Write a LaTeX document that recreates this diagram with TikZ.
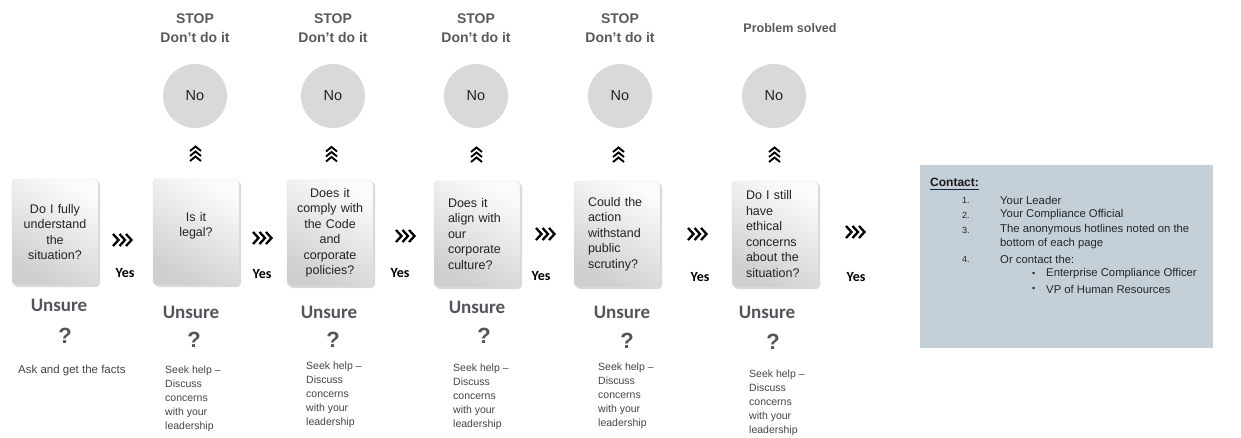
\documentclass[tikz,border=0pt]{standalone}
\usepackage{fontspec}
\setmainfont{Liberation Sans}
\newfontfamily\calibri{Carlito}
\usetikzlibrary{shadows}
\usetikzlibrary{calc}

\definecolor{inkgray}{RGB}{35,35,35}
\definecolor{stopgray}{RGB}{89,89,89}
\definecolor{unsuregray}{RGB}{82,86,92}
\definecolor{notegray}{RGB}{68,68,68}
\definecolor{nofill}{RGB}{216,217,217}
\definecolor{contactfill}{RGB}{197,207,216}
\definecolor{navy}{RGB}{16,37,63}

\begin{document}
\begin{tikzpicture}
[x=1pt,y=-1pt,
question/.style={rounded corners=4pt,draw=gray!25,top color=gray!3,bottom color=gray!38,shading angle=-30,
  drop shadow={opacity=0.3,shadow xshift=2pt,shadow yshift=-2pt},minimum width=86pt,minimum height=106pt,
  inner sep=0pt,text width=74pt,align=center,text=inkgray,font=\fontsize{12.5}{15.5}\selectfont},
nocircle/.style={circle,fill=nofill,minimum size=64pt,inner sep=0pt,text=inkgray,font=\fontsize{14.5}{16}\selectfont},
stoplabel/.style={align=center,text=stopgray,font=\bfseries\fontsize{14}{19}\selectfont},
yeslabel/.style={text=black,font=\calibri\bfseries\fontsize{14}{16}\selectfont},
unsure/.style={text=unsuregray,font=\calibri\bfseries\fontsize{19}{21}\selectfont},
qmark/.style={text=unsuregray,font=\bfseries\fontsize{22}{24}\selectfont},
note/.style={anchor=north west,align=left,inner sep=0pt,text=notegray,font=\fontsize{10.5}{14}\selectfont},
listitem/.style={anchor=west,inner sep=0pt,text=black!85,font=\fontsize{11.3}{13}\selectfont},
listmark/.style={anchor=west,inner sep=0pt,text=black!85,font=\fontsize{9}{11}\selectfont},
gochev/.pic={\foreach \d in {-6.5,0,6.5} \draw[line width=2.3pt] (\d-3.5,-6) -- (\d+2,0) -- (\d-3.5,6);},
upchev/.pic={\foreach \d in {-7,-2,3} \draw[line width=1.9pt] (-5.5,\d+4.5) -- (0,\d) -- (5.5,\d+4.5);}]
\useasboundingbox (0,0) rectangle (1241,438);

% question boxes
\node[question] (box1) at (55,232) {Do I fully\\understand\\the\\situation?};
\node[question] (box2) at (196,232) {Is it\\legal?\\\mbox{}};
\node[question] (box3) at (330,233) {Does it\\comply with\\the Code\\and\\corporate\\policies?};
\node[question,align=left,text width=58pt] (box4) at (477,234) {Does it\\align with\\our\\corporate\\culture?};
\node[question,align=left,text width=58pt] (box5) at (617,234) {Could the\\action\\withstand\\public\\scrutiny?};
\node[question,align=left,text width=58pt] (box6) at (775,234) {Do I still\\have\\ethical\\concerns\\about the\\situation?};

% no answers
\node[nocircle] (no2) at (195,96) {No};
\node[nocircle] (no3) at (333,96) {No};
\node[nocircle] (no4) at (476,96) {No};
\node[nocircle] (no5) at (620,96) {No};
\node[nocircle] (no6) at (774,96) {No};
\node[stoplabel] (stop2) at (195,28) {STOP\\Don’t do it};
\node[stoplabel] (stop3) at (333,28) {STOP\\Don’t do it};
\node[stoplabel] (stop4) at (476,28) {STOP\\Don’t do it};
\node[stoplabel] (stop5) at (620,28) {STOP\\Don’t do it};
\node[stoplabel,font=\bfseries\fontsize{12.5}{15}\selectfont] (solved) at (790,28) {Problem solved};
\foreach \n in {2,...,6}
  \pic at ($(box\n.north)!0.5!(no\n.south)$) {upchev};

% yes answers
\pic at (123,240) {gochev};
\pic at (263,238) {gochev};
\pic at (406,236) {gochev};
\pic at (546,234) {gochev};
\pic at (698,234) {gochev};
\pic at (856,232) {gochev};
\node[yeslabel] (yes1) at (125,273) {Yes};
\node[yeslabel] (yes2) at (262,274) {Yes};
\node[yeslabel] (yes3) at (400,273) {Yes};
\node[yeslabel] (yes4) at (541,276) {Yes};
\node[yeslabel] (yes5) at (700,277) {Yes};
\node[yeslabel] (yes6) at (856,277) {Yes};

% unsure answers
\node[unsure] (unsure1) at (59,305) {Unsure};
\node[unsure] (unsure2) at (191,312) {Unsure};
\node[unsure] (unsure3) at (329,312) {Unsure};
\node[unsure] (unsure4) at (477,307) {Unsure};
\node[unsure] (unsure5) at (622,312) {Unsure};
\node[unsure] (unsure6) at (767,312) {Unsure};
\node[qmark] (q1) at (65,336) {?};
\node[qmark] (q2) at (194,340) {?};
\node[qmark] (q3) at (333,340) {?};
\node[qmark] (q4) at (484,336) {?};
\node[qmark] (q5) at (627,341) {?};
\node[qmark] (q6) at (773,342) {?};
\node[note,font=\fontsize{11.5}{14}\selectfont] (help1) at (18,365) {Ask and get the facts};
\node[note] (help2) at (165,366) {Seek help –\\Discuss\\concerns\\with your\\leadership};
\node[note] (help3) at (306,362) {Seek help –\\Discuss\\concerns\\with your\\leadership};
\node[note] (help4) at (453,364) {Seek help –\\Discuss\\concerns\\with your\\leadership};
\node[note] (help5) at (598,363) {Seek help –\\Discuss\\concerns\\with your\\leadership};
\node[note] (help6) at (749,370) {Seek help –\\Discuss\\concerns\\with your\\leadership};

% contact panel
\node[fill=contactfill,anchor=north west,minimum width=293pt,minimum height=183pt,inner sep=0pt] (contact) at (920,165) {};
\node[anchor=base west,inner sep=0pt,text=black!90,font=\bfseries\fontsize{12}{14}\selectfont] (ctitle) at (930,187) {Contact:};
\draw[navy,line width=1.3pt] ([yshift=-2pt]ctitle.south west) -- ([yshift=-2pt]ctitle.south east);
\node[listmark] (n1) at (962,200) {1.};
\node[listitem] (c1) at (1000,200) {Your Leader};
\node[listmark] (n2) at (962,215) {2.};
\node[listitem] (c2) at (1000,215) {Your Compliance Official};
\node[listmark] (n3) at (962,230) {3.};
\node[listitem] (c3) at (1000,230) {The anonymous hotlines noted on the};
\node[listitem] (c3b) at (1000,244) {bottom of each page};
\node[listmark] (n4) at (962,259) {4.};
\node[listitem] (c4) at (1000,259) {Or contact the:};
\node[listmark] (b1) at (1032,274) {•};
\node[listitem] (c5) at (1046,274) {Enterprise Compliance Officer};
\node[listmark] (b2) at (1032,289) {•};
\node[listitem] (c6) at (1046,289) {VP of Human Resources};
\end{tikzpicture}
\end{document}
